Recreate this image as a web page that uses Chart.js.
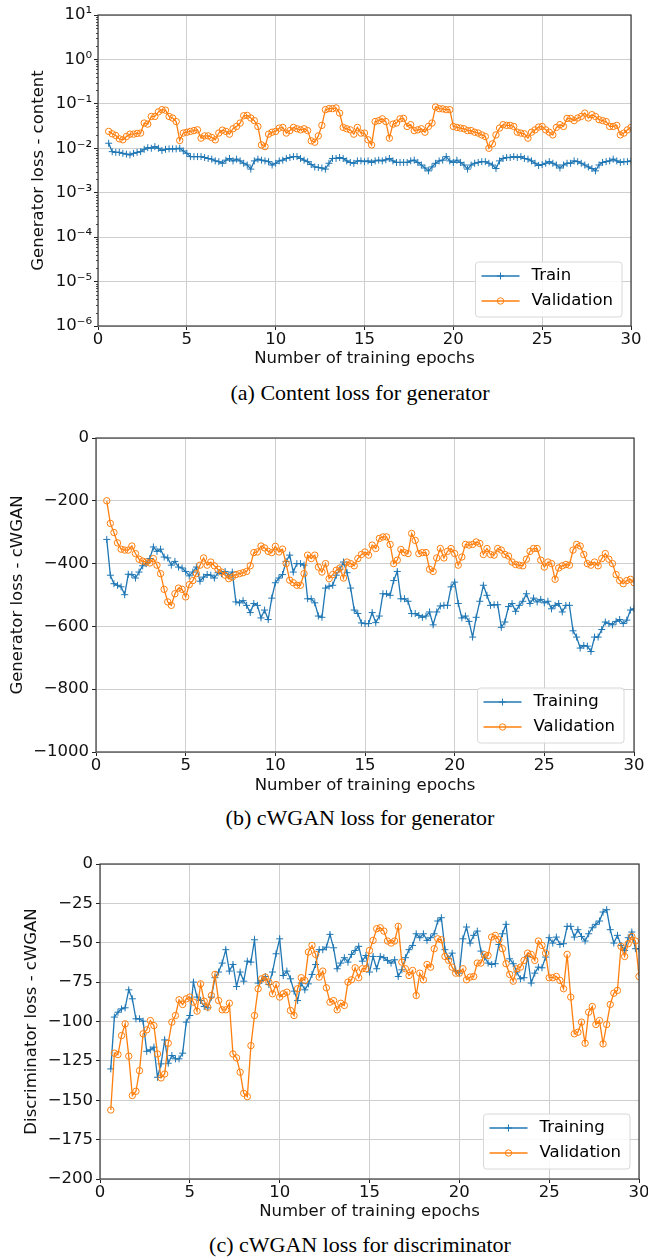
<!DOCTYPE html>
<html>
<head>
<meta charset="utf-8">
<script src="https://cdn.jsdelivr.net/npm/chart.js@4.4.1/dist/chart.umd.min.js"></script>
<style>
  html, body { margin: 0; padding: 0; background: #fff; overflow: hidden; }
  #page { position: relative; width: 648px; height: 1258px; }
  canvas { position: absolute; left: 0; }
  .caption {
    position: absolute; left: 160px; width: 400px; text-align: center;
    font-family: "Liberation Serif", "Times New Roman", serif;
    font-size: 22px; line-height: 26px; color: #000;
  }
</style>
</head>
<body>
<div id="page">
  <canvas id="chartA" width="648" height="372" style="top:0px;width:648px;height:372px"></canvas>
  <div class="caption" style="top:380px">(a) Content loss for generator</div>
  <canvas id="chartB" width="648" height="395" style="top:405px;width:648px;height:395px"></canvas>
  <div class="caption" style="top:805px">(b) cWGAN loss for generator</div>
  <canvas id="chartC" width="648" height="400" style="top:830px;width:648px;height:400px"></canvas>
  <div class="caption" style="top:1232px">(c) cWGAN loss for discriminator</div>
</div>

<script>
// 데이터: 0.6 에폭부터 0.2 간격으로 기록된 손실값
const EPOCH_FIRST = 0.6;
const EPOCH_STEP = 0.2;

// x축 눈금
const xTicks = [0, 5, 10, 15, 20, 25, 30];

// (a) 생성자 content loss (로그 스케일)
const yTicksA = [1e-6, 1e-5, 1e-4, 1e-3, 1e-2, 1e-1, 1, 10];
const yLabelsA = ['10\u207B\u2076', '10\u207B\u2075', '10\u207B\u2074', '10\u207B\u00B3', '10\u207B\u00B2', '10\u207B\u00B9', '10\u2070', '10\u00B9'];
const trainA = [
  0.013,0.0084,0.0081,0.0081,0.0077,0.0074,0.0071,0.0077,0.0081,0.0084,
  0.0095,0.0103,0.0100,0.0109,0.0100,0.0089,0.0095,0.0097,0.0097,0.0097,
  0.0100,0.0087,0.0077,0.0065,0.0065,0.0065,0.0065,0.0062,0.0059,0.0057,
  0.0052,0.0050,0.0046,0.0054,0.0059,0.0052,0.0057,0.0052,0.0046,0.0042,
  0.0034,0.0052,0.0057,0.0054,0.0052,0.0050,0.0042,0.0046,0.0052,0.0054,
  0.0059,0.0062,0.0065,0.0065,0.0059,0.0054,0.0050,0.0043,0.0038,0.0037,
  0.0036,0.0034,0.0046,0.0059,0.0059,0.0062,0.0059,0.0052,0.0048,0.0046,
  0.0052,0.0052,0.0050,
  0.0052,0.0048,0.0052,0.0054,0.0052,0.0055,0.0059,0.0052,0.0048,0.0048,
  0.0048,0.0048,0.0052,0.0054,0.0048,0.0042,0.0036,0.0031,0.0038,0.0046,
  0.0052,0.0054,0.0065,0.0052,0.0048,0.0054,0.0048,0.0042,0.0034,0.0042,
  0.0046,0.0048,0.0050,0.0050,0.0046,0.0042,0.0035,0.0052,0.0059,0.0062,
  0.0062,0.0065,0.0062,0.0065,0.0059,0.0057,0.0052,0.0046,0.0041,0.0043,
  0.0046,0.0050,0.0046,0.0042,0.0036,0.0042,0.0046,0.0046,0.0052,0.0050,
  0.0046,0.0042,0.0038,0.0035,0.0031,0.0042,0.0048,0.0050,0.0052,0.0057,
  0.0052,0.0048,0.0050,0.0050,0.0052
];
const valA = [
  0.024,0.0212,0.0194,0.0163,0.0155,0.0184,0.0208,0.0208,0.0216,0.022,
  0.037,0.035,0.052,0.052,0.066,0.074,0.072,0.052,0.048,0.040,
  0.015,0.022,0.023,0.024,0.025,0.026,0.0169,0.019,0.019,0.0175,
  0.0155,0.022,0.0256,0.024,0.0208,0.0275,0.031,0.037,0.054,0.055,
  0.048,0.042,0.031,0.0119,0.0109,0.0208,0.023,0.024,0.0285,0.0295,
  0.022,0.025,0.0295,0.0275,0.026,0.0275,0.025,0.0147,0.0137,0.019,
  0.0328,0.074,0.078,0.078,0.081,0.062,0.0295,0.0275,0.026,0.0208,
  0.0295,0.022,0.022,
  0.0155,0.0119,0.040,0.042,0.046,0.040,0.0169,0.035,0.037,0.046,
  0.047,0.031,0.034,0.025,0.026,0.0275,0.023,0.031,0.037,0.085,
  0.078,0.077,0.074,0.074,0.031,0.0295,0.0285,0.0275,0.025,0.025,
  0.023,0.022,0.020,0.0184,0.010,0.0126,0.020,0.0285,0.034,0.0328,
  0.0328,0.031,0.023,0.022,0.0212,0.0169,0.023,0.026,0.030,0.031,
  0.026,0.023,0.020,0.0295,0.034,0.031,0.047,0.047,0.042,0.048,
  0.052,0.062,0.048,0.057,0.052,0.044,0.042,0.040,0.031,0.031,
  0.0328,0.020,0.022,0.026,0.0295
];

// (b) 생성자 cWGAN loss
const yTicksB = [-1000, -800, -600, -400, -200, 0];
const trainB = [
  -323,-437,-464,-469,-474,-499,-434,-435,-446,-427,
  -407,-400,-384,-347,-361,-354,-379,-382,-405,-393,
  -411,-414,-425,-439,-427,-411,-456,-443,-435,-437,
  -446,-429,-432,-425,-439,-427,-522,-525,-518,-533,
  -556,-527,-533,-573,-548,-578,-510,-461,-446,-435,
  -393,-373,-427,-400,-400,-405,-512,-512,-525,-567,
  -571,-478,-472,-469,-437,-418,-395,-429,-478,-548,
  -559,-589,-591,-591,-556,-588,-567,-496,-496,-501,
  -454,-425,-512,-512,-520,-559,-559,-565,-571,-567,
  -554,-595,-554,-535,-533,-533,-474,-459,-527,-573,
  -567,-584,-634,-571,-520,-469,-501,-533,-531,-531,
  -603,-586,-537,-527,-552,-533,-520,-496,-527,-510,
  -522,-514,-525,-520,-544,-533,-527,-554,-533,-533,
  -614,-634,-669,-661,-663,-680,-634,-634,-610,-586,
  -591,-595,-584,-578,-591,-580,-548,-544
];
const valB = [
  -200,-272,-301,-334,-354,-357,-357,-344,-368,-386,
  -392,-395,-398,-384,-405,-432,-482,-522,-533,-496,
  -478,-482,-506,-467,-454,-432,-405,-382,-405,-395,
  -407,-418,-427,-437,-448,-443,-435,-432,-429,-425,
  -407,-365,-363,-344,-350,-361,-365,-345,-363,-354,
  -400,-453,-461,-469,-469,-432,-373,-384,-373,-411,
  -427,-400,-448,-435,-421,-414,-446,-395,-400,-407,
  -384,-371,-363,-373,-341,-352,-320,-315,-315,-339,
  -400,-389,-355,-365,-368,-304,-326,-368,-365,-365,
  -418,-425,-382,-352,-382,-361,-352,-368,-405,-379,
  -339,-341,-339,-331,-336,-371,-352,-371,-373,-352,
  -357,-371,-376,-395,-403,-405,-407,-386,-361,-352,
  -352,-389,-411,-395,-400,-450,-414,-407,-403,-405,
  -357,-339,-344,-371,-400,-405,-395,-407,-384,-368,
  -386,-400,-435,-454,-464,-454,-450,-461
];

// (c) 판별자 cWGAN loss
const yTicksC = [-200, -175, -150, -125, -100, -75, -50, -25, 0];
const trainC = [
  -130.1,-97.2,-94.1,-92,-91.3,-79.9,-85.6,-98.3,-98.3,-99.8,
  -118.9,-118,-116.3,-135.4,-126.9,-111.7,-126.5,-121.6,-123.7,-123.7,
  -120.1,-100.4,-96.2,-75,-84.5,-86.7,-90.5,-91.3,-84.5,-72.2,
  -68.6,-62.9,-54.4,-68,-63.8,-77.8,-68.6,-74.4,-61.7,-62.3,
  -48.1,-75.6,-73.9,-71.4,-76.5,-68.6,-57,-47.5,-70.8,-68,
  -72.9,-80.7,-86.7,-75.6,-79.9,-76.1,-70.1,-63.8,-54.4,-54.4,
  -52.8,-44.7,-53.2,-66.5,-62.9,-59.5,-62.3,-57.4,-54.9,-52.3,
  -61.7,-58.1,-68.6,-58.7,-66.5,-58.7,-59.5,-61.2,-62.9,-60.8,
  -71.4,-67.2,-59.5,-54.4,-51.7,-44.3,-46.8,-44.3,-48.5,-46.8,
  -44.3,-36.2,-34.1,-54.4,-60.2,-56.6,-68,-69.3,-47.5,-40,
  -50.2,-45.3,-42.6,-55.3,-59.1,-62.9,-63.8,-63.3,-51.1,-44.3,
  -38.3,-60.2,-63.3,-68.6,-72.9,-72.2,-58.7,-75.6,-69.3,-65.5,
  -65.9,-59.1,-46.8,-50.2,-46.4,-51.1,-50.6,-39.6,-39.6,-46.4,
  -41.7,-46,-48.9,-44.3,-40.5,-38.3,-36.2,-30.5,-29,-41.7,
  -50.2,-45.3,-51.7,-54.9,-46.8,-43.2,-53.8,-53.8
];
const valC = [
  -156.2,-120.1,-121,-108.9,-101.5,-122,-147,-144.3,-131.2,-107.8,
  -105.3,-99.4,-102.6,-120.6,-135.8,-133.3,-113.8,-100.4,-96.2,-86.2,
  -89.2,-85.6,-84.5,-87.7,-93.4,-76.1,-87.1,-90.9,-83.5,-70.1,
  -86.7,-92.6,-92.6,-88.4,-120.6,-123.1,-132.2,-145.6,-147.7,-115.3,
  -96.2,-79.2,-72.9,-71.8,-75,-82.4,-76.5,-84.5,-82.4,-81.4,
  -93,-96.2,-79.2,-72.2,-73.9,-55.9,-51.7,-57.4,-71.8,-68,
  -78.6,-87.7,-86.7,-92.6,-88.4,-89.8,-75,-73.5,-65.9,-72.2,
  -66.5,-66.5,-54.9,-48.5,-41.1,-40.5,-42.6,-48.9,-50.2,-48.9,
  -39.6,-62.3,-66.5,-70.8,-67.6,-83.5,-69.3,-73.5,-63.8,-65.5,
  -53.8,-47.5,-48.1,-58.7,-61.2,-65.5,-69.3,-69.3,-66.5,-73.5,
  -71.8,-71.4,-62.9,-62.9,-57.6,-58.1,-46.4,-45.3,-48.1,-53.8,
  -63.3,-70.1,-74.4,-66.5,-65.5,-61.2,-56.6,-57.4,-61.2,-48.9,
  -51.7,-56.6,-72.2,-72.2,-71.4,-73.9,-79.2,-57.4,-84.5,-107.8,
  -106.8,-100.4,-113.8,-94.1,-90.5,-101.9,-99.4,-114.2,-101.9,-89.2,
  -82,-80.3,-52.3,-58.7,-50.6,-46,-48.9,-71.4
];

const BLUE = '#1f77b4';
const ORANGE = '#ff7f0e';
const FONT = { family: '"DejaVu Sans", sans-serif', size: 16.5 };

Chart.defaults.font.family = FONT.family;

const epochs = trainA.map((_, i) => Math.round((EPOCH_FIRST + i * EPOCH_STEP) * 10) / 10);
const toPoints = arr => arr.map((v, i) => ({ x: epochs[i], y: v }));
const minus = v => (v < 0 ? '\u2212' + Math.abs(v) : String(v));

// 축 테두리 (matplotlib 스타일의 네 변)
const frame = {
  id: 'frame',
  afterDatasetsDraw(chart) {
    const { ctx, chartArea: a } = chart;
    ctx.save();
    ctx.strokeStyle = '#3a3a3a';
    ctx.lineWidth = 1.2;
    ctx.strokeRect(a.left, a.top, a.right - a.left, a.bottom - a.top);
    ctx.restore();
  }
};

// 로그축 보조 눈금 (2~9 x 10^n)
const minorLogTicks = {
  id: 'minorLogTicks',
  afterDraw(chart) {
    const y = chart.scales.y;
    if (y.type !== 'logarithmic') return;
    const { ctx, chartArea: a } = chart;
    ctx.save();
    ctx.strokeStyle = '#222';
    ctx.lineWidth = 0.8;
    ctx.beginPath();
    for (let e = -6; e < 1; e++) {
      for (let m = 2; m <= 9; m++) {
        const py = Math.round(y.getPixelForValue(m * Math.pow(10, e))) + 0.5;
        ctx.moveTo(a.left - 2, py);
        ctx.lineTo(a.left, py);
      }
    }
    ctx.stroke();
    ctx.restore();
  }
};

// 그래프 안쪽 오른쪽 아래 범례
const innerLegend = {
  id: 'innerLegend',
  afterDraw(chart, args, opts) {
    const { ctx, chartArea: a } = chart;
    ctx.save();
    ctx.font = FONT.size + 'px ' + FONT.family;
    const textW = Math.max(...opts.items.map(it => ctx.measureText(it.label).width));
    const w = 56 + textW + 9;
    const h = 55;
    const x = a.right - opts.right - w;
    const y = a.bottom - opts.bottom - h;
    ctx.beginPath();
    ctx.roundRect(x, y, w, h, 3);
    ctx.fillStyle = 'rgba(255,255,255,0.85)';
    ctx.fill();
    ctx.strokeStyle = '#d8d8d8';
    ctx.lineWidth = 1;
    ctx.stroke();
    opts.items.forEach((it, i) => {
      const cy = y + 14 + i * 25;
      ctx.strokeStyle = it.color;
      ctx.lineWidth = 1.5;
      ctx.beginPath();
      ctx.moveTo(x + 6, cy);
      ctx.lineTo(x + 44, cy);
      ctx.stroke();
      ctx.lineWidth = 1;
      ctx.beginPath();
      if (it.marker === 'cross') {
        ctx.moveTo(x + 25 - 3.5, cy); ctx.lineTo(x + 25 + 3.5, cy);
        ctx.moveTo(x + 25, cy - 3.5); ctx.lineTo(x + 25, cy + 3.5);
      } else {
        ctx.arc(x + 25, cy, 3.2, 0, Math.PI * 2);
      }
      ctx.stroke();
      ctx.fillStyle = '#000';
      ctx.textBaseline = 'middle';
      ctx.textAlign = 'left';
      ctx.fillText(it.label, x + 56, cy);
    });
    ctx.restore();
  }
};

function makeChart(id, c) {
  const H = c.height;
  const yAxis = {
    type: c.log ? 'logarithmic' : 'linear',
    min: c.yTicks[0],
    max: c.yTicks[c.yTicks.length - 1],
    afterBuildTicks: s => { s.ticks = c.yTicks.map(v => ({ value: v })); },
    afterFit: s => { s.width = c.plot.left; s.paddingTop = 0; s.paddingBottom = 0; },
    ticks: {
      font: FONT, color: '#111', padding: c.yTickPad,
      callback: (v, i) => (c.yLabels ? c.yLabels[i] : minus(v))
    },
    grid: { color: '#cfcfcf', lineWidth: 1, tickLength: 4, tickColor: '#222' },
    border: { display: false },
    title: { display: true, text: c.yTitle, font: FONT, color: '#111', padding: { top: c.yTitleX - 9.9, bottom: 0 } }
  };

  return new Chart(document.getElementById(id), {
    type: 'line',
    data: {
      datasets: [
        {
          label: c.trainLabel, data: toPoints(c.train), order: 1,
          borderColor: BLUE, backgroundColor: BLUE, borderWidth: 1.3,
          pointStyle: 'cross', pointRadius: 3.5, pointBorderWidth: 1,
          pointBorderColor: BLUE, tension: 0
        },
        {
          label: 'Validation', data: toPoints(c.val), order: 0,
          borderColor: ORANGE, backgroundColor: 'rgba(255,127,14,0)', borderWidth: 1.3,
          pointStyle: 'circle', pointRadius: 3.2, pointBorderWidth: 1,
          pointBorderColor: ORANGE, pointBackgroundColor: 'rgba(255,127,14,0)', tension: 0
        }
      ]
    },
    options: {
      responsive: false,
      animation: false,
      devicePixelRatio: 1,
      layout: { padding: { left: 0, top: c.plot.top, right: 648 - c.plot.right, bottom: 0 } },
      plugins: {
        legend: { display: false },
        tooltip: { enabled: false },
        innerLegend: {
          right: c.legend.right, bottom: c.legend.bottom,
          items: [
            { label: c.trainLabel, color: BLUE, marker: 'cross' },
            { label: 'Validation', color: ORANGE, marker: 'circle' }
          ]
        }
      },
      scales: {
        x: {
          type: 'linear', min: 0, max: 30,
          afterBuildTicks: s => { s.ticks = xTicks.map(v => ({ value: v })); },
          afterFit: s => { s.height = H - c.plot.bottom; s.paddingLeft = 0; s.paddingRight = 0; },
          ticks: { font: FONT, color: '#111', padding: 0, maxRotation: 0, autoSkip: false },
          grid: { color: '#cfcfcf', lineWidth: 1, tickLength: 4, tickColor: '#222' },
          border: { display: false },
          title: { display: true, text: 'Number of training epochs', font: FONT, color: '#111', padding: { top: 0, bottom: c.xTitlePad } }
        },
        y: yAxis
      }
    },
    plugins: [frame, minorLogTicks, innerLegend]
  });
}

makeChart('chartA', {
  height: 372, plot: { left: 98, top: 15, right: 631, bottom: 326 },
  log: true, yTicks: yTicksA, yLabels: yLabelsA, yTickPad: 2,
  yTitle: 'Generator loss - content', yTitleX: 39, xTitlePad: 3,
  train: trainA, val: valA, trainLabel: 'Train',
  legend: { right: 9, bottom: 9 }
});

makeChart('chartB', {
  height: 395, plot: { left: 96, top: 33, right: 634, bottom: 347 },
  log: false, yTicks: yTicksB, yLabels: null, yTickPad: 3,
  yTitle: 'Generator loss - cWGAN', yTitleX: 17.5, xTitlePad: 4,
  train: trainB, val: valB, trainLabel: 'Training',
  legend: { right: 10, bottom: 9 }
});

makeChart('chartC', {
  height: 400, plot: { left: 100, top: 34, right: 639, bottom: 349 },
  log: false, yTicks: yTicksC, yLabels: null, yTickPad: 3,
  yTitle: 'Discriminator loss - cWGAN', yTitleX: 32, xTitlePad: 8,
  train: trainC, val: valC, trainLabel: 'Training',
  legend: { right: 9, bottom: 10 }
});
</script>
</body>
</html>
